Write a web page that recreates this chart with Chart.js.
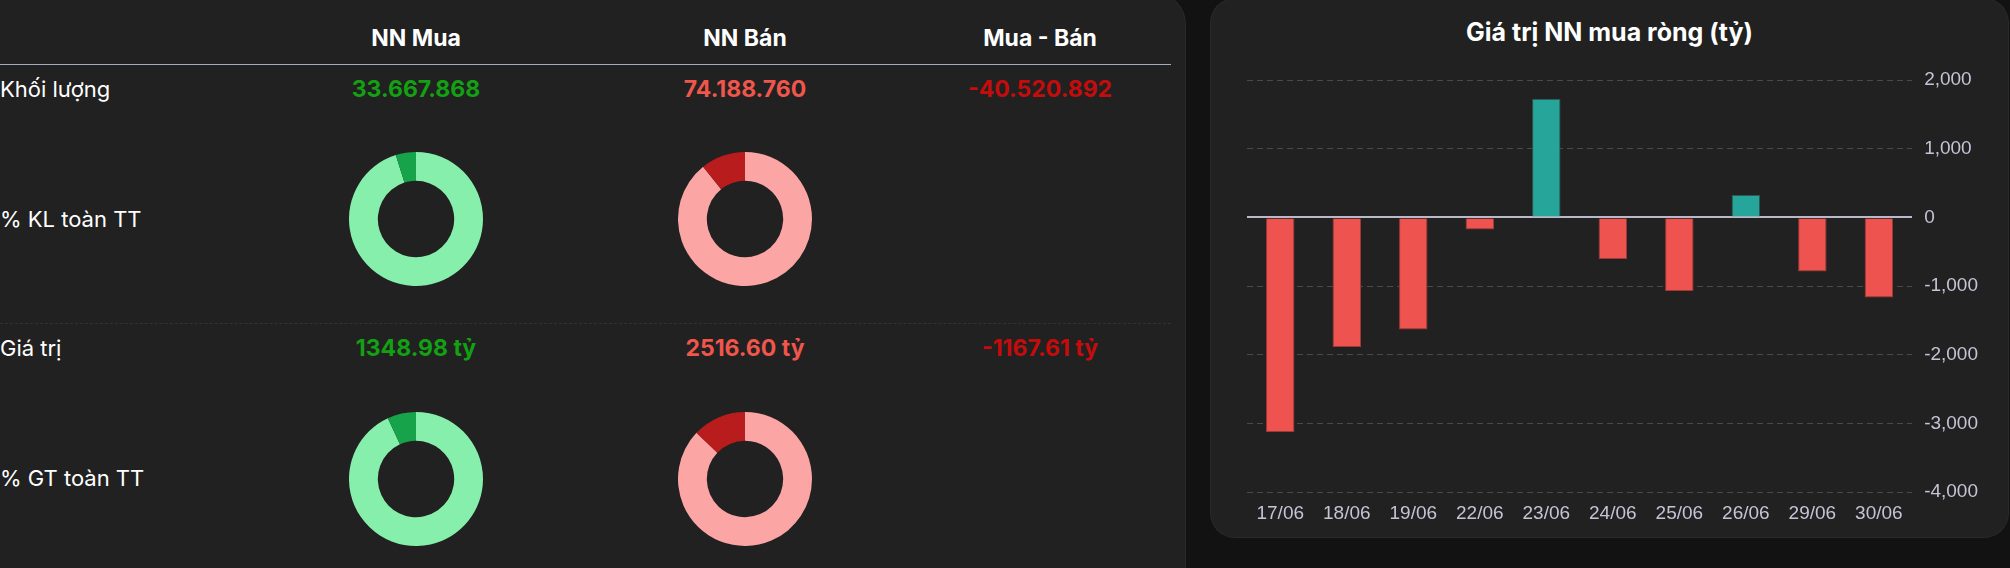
<!DOCTYPE html>
<html>
<head>
<meta charset="utf-8">
<script src="https://cdn.jsdelivr.net/npm/chart.js@4"></script>
<style>
    html, body { margin: 0; padding: 0; }
    body {
        width: 2010px; height: 568px; overflow: hidden;
        background: #121212; position: relative;
        font-family: Inter, "Noto Sans", sans-serif; color: #fff;
    }
    .card { position: absolute; background: #212121; box-shadow: 0 0 0 1px #2a2a2a; }
    #leftCard { left: -30px; top: -6px; width: 1215px; height: 620px; border-radius: 0 30px 0 0; }
    #rightCard { left: 1211px; top: -1px; width: 797px; height: 538px; border-radius: 24px; }
    #chartTitle {
        position: absolute; left: 0; right: 0; top: 33px; transform: translateY(-50%);
        text-align: center; font-size: 25px; font-weight: 700; white-space: nowrap;
    }
    #chartBox { position: absolute; left: 0; top: 0; width: 797px; height: 538px; }
    .txt { position: absolute; transform: translate(-50%, -50%); white-space: nowrap; font-size: 23px; }
    .lbl { position: absolute; transform: translateY(-50%); left: -1px; white-space: nowrap; font-size: 22px; }
    .b { font-weight: 700; }
    .donut { position: absolute; width: 134px; height: 134px; }
    .line { position: absolute; left: 0; width: 1171px; height: 0; }
</style>
</head>
<body>
<div class="card" id="leftCard"></div>
<div id="table"></div>
<div class="card" id="rightCard">
    <div id="chartTitle">Giá trị NN mua ròng (tỷ)</div>
    <div id="chartBox"><canvas id="netChart"></canvas></div>
</div>

<script>
// table data
const columns = ['NN Mua', 'NN Bán', 'Mua - Bán'];
const volumes = [33667868, 74188760, -40520892];
const values = [1348.98, 2516.60, -1167.61];
const volumeShare = [4.88, 10.75];   // % KL toàn TT
const valueShare = [6.9, 12.9];      // % GT toàn TT

// bar chart data
const dates = ['17/06', '18/06', '19/06', '22/06', '23/06', '24/06', '25/06', '26/06', '29/06', '30/06'];
const netValues = [-3124, -1885, -1633, -175, 1726, -607, -1070, 326, -787, -1167.61];

const colX = [416, 745, 1040];
const textColors = ['#13a013', '#f0564b', '#c50c0c'];
const table = document.querySelector('#table');

function addText(html, x, y, cls, color) {
    const el = document.createElement('div');
    el.className = cls;
    el.style.left = x + 'px';
    el.style.top = y + 'px';
    if (color) el.style.color = color;
    el.innerHTML = html;
    table.appendChild(el);
    return el;
}

function addLine(y, style) {
    const el = document.createElement('div');
    el.className = 'line';
    el.style.top = y + 'px';
    el.style.borderTop = style;
    table.appendChild(el);
}

columns.forEach((c, i) => addText(c, colX[i], 38, 'txt b'));
addLine(64, '1px solid #a4adba');
addLine(323, '1px dashed #333');

addText('Khối lượng', 0, 89, 'lbl');
volumes.forEach((v, i) => addText(v.toLocaleString('de-DE'), colX[i], 89, 'txt b', textColors[i]));
addText('% KL toàn TT', 0, 219, 'lbl');

addText('Giá trị', 0, 348, 'lbl');
values.forEach((v, i) => addText(v.toFixed(2) + ' tỷ', colX[i], 348, 'txt b', textColors[i]));
addText('% GT toàn TT', 0, 478, 'lbl');

function createDonut(x, y, pct, light, dark) {
    const box = document.createElement('div');
    box.className = 'donut';
    box.style.left = (x - 67) + 'px';
    box.style.top = (y - 67) + 'px';
    const canvas = document.createElement('canvas');
    box.appendChild(canvas);
    table.appendChild(box);

    new Chart(canvas, {
        type: 'doughnut',
        data: {
            datasets: [{
                data: [100 - pct, pct],
                backgroundColor: [light, dark],
                borderWidth: 0,
                hoverOffset: 0
            }]
        },
        options: {
            responsive: true,
            maintainAspectRatio: false,
            animation: false,
            cutout: '57%',
            plugins: { legend: { display: false }, tooltip: { enabled: false } }
        }
    });
}

createDonut(colX[0], 219, volumeShare[0], '#86efac', '#16a34a');
createDonut(colX[1], 219, volumeShare[1], '#fca5a5', '#b91c1c');
createDonut(colX[0], 479, valueShare[0], '#86efac', '#16a34a');
createDonut(colX[1], 479, valueShare[1], '#fca5a5', '#b91c1c');

new Chart(document.querySelector('#netChart'), {
    type: 'bar',
    data: {
        labels: dates,
        datasets: [{
            data: netValues,
            backgroundColor: netValues.map(v => v >= 0 ? '#26a69a' : '#ef5350'),
            borderColor: netValues.map(v => v >= 0 ? '#2f5650' : '#9c3a38'),
            borderWidth: 1,
            categoryPercentage: 0.8,
            barPercentage: 0.535
        }]
    },
    options: {
        responsive: true,
        maintainAspectRatio: false,
        animation: false,
        locale: 'en-US',
        layout: { padding: { left: 36, right: 18, top: 81, bottom: 2 } },
        plugins: {
            legend: { display: false },
            tooltip: { enabled: false }
        },
        scales: {
            x: {
                grid: { display: false, drawTicks: false },
                border: { display: false },
                ticks: { color: '#c4c4d6', font: { size: 19 }, padding: 10 }
            },
            y: {
                position: 'right',
                min: -4000,
                max: 2000,
                border: {
                    display: false,
                    dash: ctx => ctx.tick && ctx.tick.value === 0 ? [] : [6, 4]
                },
                grid: {
                    drawTicks: false,
                    color: ctx => ctx.tick && ctx.tick.value === 0 ? '#b9b9cb' : '#4a4a4e',
                    lineWidth: ctx => ctx.tick && ctx.tick.value === 0 ? 2 : 1
                },
                ticks: { stepSize: 1000, color: '#c4c4d6', font: { size: 19 }, padding: 12 }
            }
        }
    }
});
</script>
</body>
</html>
